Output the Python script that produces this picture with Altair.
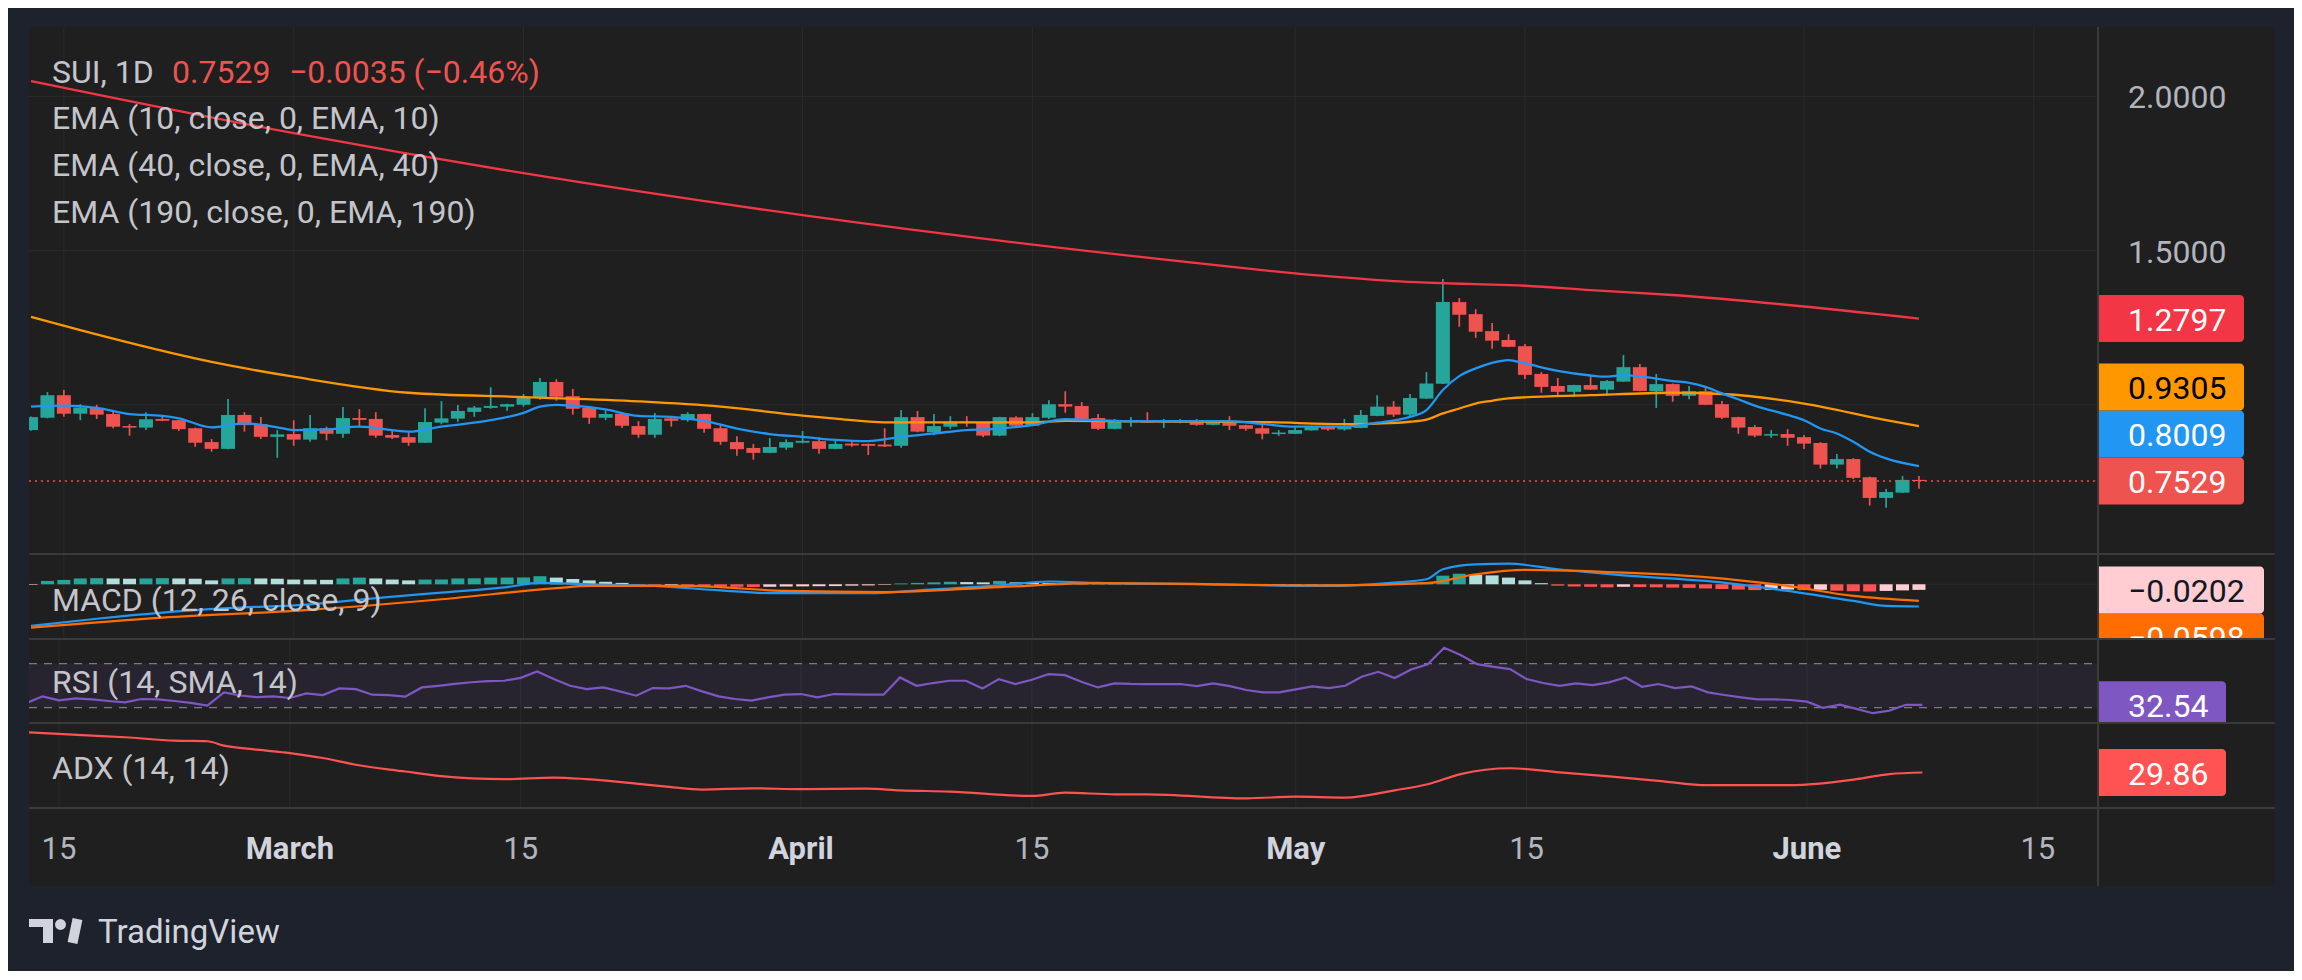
import altair as alt
import pandas as pd

# ---------------- data ----------------
symbol = "SUI, 1D"
change_text = "−0.0035 (−0.46%)"
start_date = "2025-02-13"
ref_date = "2025-02-15"

opens = [0.918, 0.958, 1.031, 0.971, 0.990, 0.970, 0.931, 0.926, 0.954, 0.950,
         0.924, 0.879, 0.857, 0.967, 0.937, 0.896, 0.905, 0.887, 0.924, 0.906,
         0.957, 0.954, 0.902, 0.895, 0.877, 0.942, 0.955, 0.977, 0.990, 0.994,
         1.000, 1.023, 1.074, 1.028, 0.990, 0.958, 0.971, 0.931, 0.903, 0.956,
         0.950, 0.970, 0.924, 0.879, 0.860, 0.844, 0.861, 0.877, 0.882, 0.857,
         0.874, 0.873, 0.871, 0.867, 0.960, 0.911, 0.929, 0.945, 0.941, 0.900,
         0.959, 0.932, 0.958, 1.002, 0.996, 0.957, 0.922, 0.943, 0.950, 0.943,
         0.943, 0.948, 0.935, 0.948, 0.934, 0.924, 0.905, 0.906, 0.917, 0.928,
         0.920, 0.925, 0.964, 0.994, 0.968, 1.020, 1.068, 1.333, 1.294, 1.239,
         1.210, 1.190, 1.100, 1.061, 1.042, 1.064, 1.049, 1.075, 1.122, 1.044,
         1.067, 1.029, 1.044, 1.002, 0.960, 0.928, 0.900, 0.905, 0.895, 0.876,
         0.806, 0.824, 0.765, 0.698, 0.715, 0.7564]
highs = [0.962, 1.041, 1.048, 1.002, 1.000, 0.982, 0.937, 0.976, 0.967, 0.951,
         0.926, 0.889, 1.019, 0.976, 0.960, 0.918, 0.950, 0.967, 0.929, 0.993,
         0.986, 0.976, 0.915, 0.913, 0.989, 1.012, 0.999, 0.996, 1.057, 1.003,
         1.035, 1.087, 1.083, 1.051, 0.994, 0.985, 0.974, 0.947, 0.973, 0.962,
         0.976, 0.971, 0.934, 0.898, 0.873, 0.892, 0.888, 0.915, 0.895, 0.885,
         0.881, 0.874, 0.924, 0.983, 0.980, 0.970, 0.963, 0.963, 0.943, 0.961,
         0.963, 0.973, 1.015, 1.044, 1.009, 0.970, 0.954, 0.960, 0.976, 0.954,
         0.954, 0.954, 0.950, 0.963, 0.935, 0.937, 0.918, 0.927, 0.932, 0.933,
         0.954, 0.983, 1.031, 1.012, 1.035, 1.106, 1.408, 1.346, 1.310, 1.265,
         1.229, 1.197, 1.106, 1.087, 1.065, 1.095, 1.080, 1.161, 1.132, 1.100,
         1.069, 1.061, 1.054, 1.012, 0.961, 0.934, 0.918, 0.921, 0.902, 0.879,
         0.840, 0.827, 0.767, 0.727, 0.769, 0.769]
lows = [0.916, 0.956, 0.961, 0.950, 0.954, 0.924, 0.900, 0.918, 0.947, 0.915,
        0.864, 0.848, 0.856, 0.913, 0.889, 0.828, 0.867, 0.880, 0.885, 0.893,
        0.927, 0.893, 0.889, 0.867, 0.876, 0.937, 0.945, 0.961, 0.987, 0.981,
        0.994, 1.016, 1.013, 0.968, 0.938, 0.950, 0.925, 0.893, 0.893, 0.929,
        0.945, 0.909, 0.870, 0.835, 0.822, 0.843, 0.854, 0.875, 0.841, 0.856,
        0.864, 0.837, 0.863, 0.861, 0.911, 0.901, 0.922, 0.929, 0.895, 0.898,
        0.925, 0.931, 0.954, 0.974, 0.950, 0.918, 0.921, 0.929, 0.941, 0.925,
        0.940, 0.932, 0.934, 0.918, 0.916, 0.888, 0.899, 0.905, 0.916, 0.916,
        0.916, 0.924, 0.963, 0.961, 0.958, 1.019, 1.067, 1.253, 1.217, 1.182,
        1.187, 1.084, 1.039, 1.026, 1.026, 1.048, 1.029, 1.074, 1.044, 0.990,
        1.010, 1.018, 0.999, 0.954, 0.906, 0.895, 0.893, 0.867, 0.857, 0.793,
        0.793, 0.759, 0.673, 0.666, 0.714, 0.728]
closes = [0.960, 1.031, 0.971, 0.991, 0.968, 0.929, 0.926, 0.953, 0.948, 0.921,
          0.877, 0.857, 0.967, 0.934, 0.896, 0.904, 0.887, 0.924, 0.906, 0.957,
          0.951, 0.900, 0.893, 0.877, 0.944, 0.956, 0.980, 0.991, 0.996, 1.002,
          1.024, 1.074, 1.026, 0.987, 0.958, 0.970, 0.932, 0.903, 0.954, 0.948,
          0.970, 0.922, 0.880, 0.856, 0.844, 0.863, 0.879, 0.883, 0.857, 0.873,
          0.868, 0.867, 0.865, 0.960, 0.913, 0.931, 0.945, 0.941, 0.900, 0.960,
          0.932, 0.960, 1.002, 0.994, 0.954, 0.922, 0.945, 0.950, 0.942, 0.948,
          0.950, 0.935, 0.948, 0.932, 0.922, 0.906, 0.910, 0.918, 0.929, 0.920,
          0.929, 0.967, 0.994, 0.968, 1.022, 1.069, 1.333, 1.292, 1.237, 1.208,
          1.188, 1.097, 1.058, 1.042, 1.064, 1.049, 1.077, 1.122, 1.045, 1.067,
          1.029, 1.044, 1.000, 0.958, 0.926, 0.900, 0.905, 0.893, 0.874, 0.806,
          0.824, 0.763, 0.698, 0.717, 0.7564, 0.7529]

# indicator readings (day numbers counted from ref_date)
ema10_days = [-2, 0, 2, 4, 6, 7, 9, 11, 13, 14, 16, 18, 21, 23, 26, 28, 29, 30, 31, 33,
              35, 37, 39, 41, 43, 45, 47, 49, 51, 53, 55, 57, 59, 61, 63, 65, 68, 71, 73, 75,
              78, 80, 82, 83, 84, 85, 86, 87, 88, 89, 91, 93, 94, 95, 97, 98, 99, 100, 101, 102,
              103, 105, 106, 107, 108, 109, 110, 111, 113]
ema10_vals = [0.994, 0.997, 0.990, 0.970, 0.964, 0.956, 0.927, 0.940, 0.927, 0.918,
              0.920, 0.929, 0.913, 0.929, 0.950, 0.974, 0.994, 1.000, 0.997, 0.985,
              0.964, 0.961, 0.948, 0.923, 0.905, 0.896, 0.886, 0.882, 0.896, 0.907,
              0.918, 0.923, 0.934, 0.953, 0.950, 0.947, 0.947, 0.947, 0.938, 0.929,
              0.929, 0.942, 0.961, 0.983, 1.048, 1.093, 1.118, 1.136, 1.145, 1.134,
              1.110, 1.095, 1.091, 1.096, 1.085, 1.077, 1.071, 1.058, 1.037, 1.018,
              0.997, 0.967, 0.950, 0.923, 0.907, 0.880, 0.848, 0.826, 0.8009]
ema40_days = [-2, 1, 9, 14, 21, 28, 35, 40, 45, 47, 50, 59, 61, 73, 78, 80, 82, 83, 84, 85,
              86, 87, 88, 93, 98, 101, 106, 111, 113]
ema40_vals = [1.285, 1.242, 1.139, 1.091, 1.039, 1.025, 1.011, 0.994, 0.965, 0.955,
              0.943, 0.943, 0.948, 0.944, 0.937, 0.939, 0.945, 0.952, 0.972, 0.988,
              1.004, 1.013, 1.021, 1.031, 1.039, 1.035, 1.004, 0.950, 0.9305]
ema190_days = [-2, 14, 28, 45, 73, 75, 78, 81, 83, 86, 89, 93, 98, 113]
ema190_vals = [2.050, 1.881, 1.751, 1.615, 1.437, 1.426, 1.413, 1.401, 1.396, 1.391,
               1.386, 1.372, 1.356, 1.2797]

macd_days = [-2, 2, 6, 10, 15, 19, 23, 27, 29, 32, 36, 40, 43, 49, 53, 57, 60, 63, 70, 77,
             81, 83, 84, 86, 88, 91, 95, 100, 105, 109, 111, 113]
macd_vals = [-0.150, -0.124, -0.102, -0.086, -0.072, -0.050, -0.030, -0.010, 0.005, 0.000,
             -0.006, -0.022, -0.032, -0.032, -0.018, -0.004, 0.010, 0.005, 0.000, -0.006,
             0.006, 0.018, 0.054, 0.072, 0.074, 0.054, 0.032, 0.012, -0.024, -0.060,
             -0.078, -0.0800]
signal_days = [-2, 6, 15, 23, 30, 32, 38, 44, 50, 57, 63, 77, 83, 86, 89, 95, 100, 105, 109, 113]
signal_vals = [-0.156, -0.120, -0.092, -0.054, -0.014, -0.006, -0.006, -0.024, -0.028, -0.010,
               0.004, -0.004, 0.004, 0.036, 0.052, 0.042, 0.026, -0.006, -0.042, -0.0598]
macd_hist = [-0.002, 0.012, 0.0156, 0.021, 0.022, 0.021, 0.020, 0.021, 0.022, 0.021,
             0.020, 0.014, 0.021, 0.022, 0.021, 0.020, 0.017, 0.0165, 0.016, 0.021,
             0.024, 0.021, 0.017, 0.014, 0.017, 0.0172, 0.021, 0.0215, 0.024, 0.0242,
             0.0245, 0.029, 0.024, 0.019, 0.014, 0.009, 0.005,
             -0.003, -0.004, -0.0035, -0.004, -0.006, -0.008, -0.009, -0.010, -0.009, -0.008,
             -0.0075, -0.007, -0.0065, -0.005, -0.004, -0.002,
             0.003, 0.005, 0.007, 0.009, 0.008, 0.007, 0.012, 0.007, 0.006, 0.005,
             0.0045, 0.004, 0.003, 0.0025, 0.002, 0.0015, 0.001, 0.0005,
             -0.001, -0.002, -0.003, -0.0035, -0.004, -0.003, -0.002, -0.0015, -0.001, -0.0005,
             0.001, 0.002, 0.003, 0.005, 0.008, 0.031, 0.038, 0.034, 0.032, 0.024, 0.014, 0.004,
             -0.005, -0.008, -0.009, -0.011, -0.009, -0.010, -0.011, -0.012, -0.013, -0.015,
             -0.017, -0.019, -0.021, -0.020, -0.019, -0.021, -0.020, -0.023, -0.025, -0.026,
             -0.024, -0.022, -0.0202]
rsi_vals = [34.0, 40.2, 36.5, 38.4, 37.4, 36.0, 34.8, 37.8, 37.4, 36.0,
            34.2, 31.8, 43.8, 41.0, 39.5, 40.2, 38.7, 42.9, 41.4, 47.4,
            46.8, 41.7, 41.4, 39.9, 48.3, 49.8, 51.5, 53.0, 54.0, 54.4,
            57.0, 62.8, 55.9, 49.8, 46.8, 48.3, 44.7, 40.8, 47.7, 47.4,
            49.8, 44.7, 40.2, 37.8, 36.3, 39.3, 41.7, 42.3, 39.3, 42.3,
            42.0, 41.8, 41.7, 57.4, 49.8, 52.3, 54.4, 54.4, 47.4, 55.9,
            51.4, 55.3, 60.4, 59.5, 53.5, 48.3, 52.0, 51.5, 51.4, 51.4,
            51.4, 49.5, 52.0, 49.5, 46.0, 43.8, 43.8, 46.5, 49.2, 47.7,
            49.8, 58.0, 62.5, 56.8, 64.6, 69.4, 84.4, 77.8, 69.4, 67.0,
            64.9, 55.9, 52.3, 49.8, 52.0, 50.5, 52.9, 57.4, 48.9, 51.4,
            47.7, 49.2, 43.8, 41.4, 39.3, 37.5, 37.5, 36.9, 35.4, 29.7,
            32.7, 28.8, 24.9, 27.3, 32.5, 32.54]
adx_days = [-2, 2, 4, 7, 9, 10, 12, 14, 16, 18, 21, 23, 25, 27, 30, 32, 35, 37, 39, 42,
            45, 49, 51, 54, 59, 61, 64, 66, 72, 75, 78, 81, 83, 85, 88, 91, 94, 97, 100, 105,
            109, 111, 113]
adx_vals = [51.9, 50.1, 49.2, 47.3, 47.0, 44.6, 42.4, 40.5, 37.8, 34.1,
            30.4, 28.0, 26.6, 26.2, 27.1, 26.2, 23.8, 22.0, 20.5, 21.2,
            20.7, 21.0, 20.1, 19.4, 17.0, 18.8, 17.9, 17.9, 15.7, 16.6,
            16.1, 20.1, 23.4, 29.0, 32.2, 29.9, 27.7, 25.3, 22.9, 22.9,
            26.2, 29.0, 29.86]

tick_days = [0, 14, 28, 45, 59, 75, 89, 106, 120]
tick_labels = ["15", "March", "15", "April", "15", "May", "15", "June", "15"]
grid_prices = [1.0, 1.5, 2.0]
axis_prices = [2.0, 1.5]
legend_lines = ["EMA (10, close, 0, EMA, 10)", "EMA (40, close, 0, EMA, 40)",
                "EMA (190, close, 0, EMA, 190)"]

# ---------------- style / layout ----------------
FONT = "Roboto"
BG_OUT = "#1e222d"
BG = "#1f1f1f"
GRID = "#2b2b2b"
SEPC = "#3a3a3a"
TXT = "#c3c5cb"
AXT = "#b2b5be"
LOGO = "#d1d4dc"
UP, DOWN = "#26a69a", "#ef5350"

W = 2246
H_MAIN, H_MACD, H_RSI, H_ADX, H_AXIS, H_FOOT = 527, 85, 84, 85, 78, 163
PXD = 16.49          # pixels per day
X0 = 30.0            # pixel of ref_date
SEP = 2069           # price-axis separator
LBL_X = 2099
BH = 47              # label box height

DOM_MAIN = [0.5161, 2.2251]
DOM_MACD = [-0.197, 0.109]
DOM_RSI = [16.0, 92.3]
DOM_ADX = [10.4, 57.0]

xscale = alt.Scale(domain=[(0 - X0) / PXD, (W - X0) / PXD], nice=False, zero=False)
X = alt.X("d:Q", scale=xscale, axis=None)


def ysc(dom):
    return alt.Scale(domain=dom, nice=False, zero=False)


def ypx(v, dom, h):
    return (dom[1] - v) / (dom[1] - dom[0]) * h


one = pd.DataFrame({"k": [0]})


def txt(s, x, y, color, size=32, weight="normal", align="left", baseline="alphabetic", clip=False):
    return alt.Chart(one).mark_text(text=s, font=FONT, fontSize=size, fontWeight=weight,
                                    color=color, align=align, baseline=baseline, clip=clip
                                    ).encode(x=alt.value(x), y=alt.value(y))


def box(x1, x2, y1, y2, color, radius=4, clip=False):
    return alt.Chart(one).mark_rect(color=color, cornerRadiusTopRight=radius,
                                    cornerRadiusBottomRight=radius, clip=clip
                                    ).encode(x=alt.value(x1), x2=alt.value(x2),
                                             y=alt.value(y1), y2=alt.value(y2))


def plainrect(x1, x2, y1, y2, color):
    return alt.Chart(one).mark_rect(color=color).encode(
        x=alt.value(x1), x2=alt.value(x2), y=alt.value(y1), y2=alt.value(y2))


def bgrect(h):
    return plainrect(0, W, 0, h, BG)


def hsep():
    return alt.Chart(one).mark_rule(color=SEPC, strokeWidth=2).encode(
        x=alt.value(0), x2=alt.value(W), y=alt.value(0))


def vsep(h):
    return alt.Chart(one).mark_rule(color=SEPC, strokeWidth=2).encode(
        x=alt.value(SEP), y=alt.value(0), y2=alt.value(h))


ticks_df = pd.DataFrame({"d": tick_days, "t": tick_labels})
month_df = ticks_df[~ticks_df["t"].str.isdigit()]
daynum_df = ticks_df[ticks_df["t"].str.isdigit()]


def vgrid(h):
    return alt.Chart(ticks_df).mark_rule(color=GRID, strokeWidth=1).encode(
        x=X, y=alt.value(0), y2=alt.value(h))


def hgrid(values, dom):
    return alt.Chart(pd.DataFrame({"p": values})).mark_rule(color=GRID, strokeWidth=1).encode(
        y=alt.Y("p:Q", scale=ysc(dom), axis=None), x=alt.value(0), x2=alt.value(SEP))


def line(days, vals, dom, color, width=2.3, interp="monotone"):
    df = pd.DataFrame({"d": days, "v": vals})
    return alt.Chart(df).mark_line(color=color, strokeWidth=width, interpolate=interp,
                                   clip=True).encode(x=X, y=alt.Y("v:Q", scale=ysc(dom), axis=None))


def fmt(v, n):
    return f"{v:.{n}f}".replace("-", "−")


# ---------------- main pane ----------------
dates = pd.date_range(start_date, periods=len(closes), freq="D")
days = [(t - pd.Timestamp(ref_date)).days for t in dates]
cdf = pd.DataFrame({"d": days, "o": opens, "h": highs, "l": lows, "c": closes})
cdf["col"] = [UP if c >= o else DOWN for o, c in zip(opens, closes)]
ym = ysc(DOM_MAIN)

wicks = alt.Chart(cdf).mark_rule(strokeWidth=1.7, clip=True).encode(
    x=X, y=alt.Y("l:Q", scale=ym, axis=None), y2="h:Q", color=alt.Color("col:N", scale=None))
bodies = alt.Chart(cdf).mark_bar(size=14, clip=True).encode(
    x=X, y=alt.Y("o:Q", scale=ym, axis=None), y2="c:Q", color=alt.Color("col:N", scale=None))

last_close = closes[-1]
lastline = alt.Chart(pd.DataFrame({"p": [last_close]})).mark_rule(
    color=DOWN, strokeWidth=1.6, strokeDash=[2, 4]).encode(
    y=alt.Y("p:Q", scale=ym, axis=None), x=alt.value(0), x2=alt.value(SEP))

axis_txt = alt.Chart(pd.DataFrame({"p": axis_prices, "t": [fmt(p, 4) for p in axis_prices]})).mark_text(
    font=FONT, fontSize=32, color=AXT, align="left", baseline="middle", dy=2).encode(
    y=alt.Y("p:Q", scale=ym, axis=None), x=alt.value(LBL_X), text="t:N")

# right-side value labels, stacked upward from the last price
main_lbls = [(ema190_vals[-1], "#f23645", "white"), (ema40_vals[-1], "#ff9800", "black"),
             (ema10_vals[-1], "#2196f3", "white"), (last_close, "#ef5350", "white")]
main_lbls.sort(key=lambda t: t[0])
placed = []
prev = None
for v, bc, tc in main_lbls:
    pos = ypx(v, DOM_MAIN, H_MAIN)
    if prev is not None:
        pos = min(pos, prev - BH)
    placed.append((v, bc, tc, pos))
    prev = pos
main_label_layers = []
for v, bc, tc, pos in placed:
    main_label_layers.append(box(SEP + 1, 2215, pos - BH / 2, pos + BH / 2, bc))
    main_label_layers.append(txt(fmt(v, 4), LBL_X, pos + 2, tc, baseline="middle"))

legend = [txt(symbol, 23, 56, TXT), txt(fmt(last_close, 4), 143, 56, DOWN),
          txt(change_text, 260, 56, DOWN)]
for i, s in enumerate(legend_lines):
    legend.append(txt(s, 23, 102 + 47 * i, TXT))

main = alt.layer(
    bgrect(H_MAIN), vgrid(H_MAIN), hgrid(grid_prices, DOM_MAIN),
    wicks, bodies,
    line(ema190_days, ema190_vals, DOM_MAIN, "#f23645", 2.3),
    line(ema40_days, ema40_vals, DOM_MAIN, "#ff9800", 2.3),
    line(ema10_days, ema10_vals, DOM_MAIN, "#2196f3", 2.3),
    lastline, *legend, vsep(H_MAIN), axis_txt, *main_label_layers,
).properties(width=W, height=H_MAIN)

# ---------------- MACD pane ----------------
hcol = []
for i, h in enumerate(macd_hist):
    p = macd_hist[i - 1] if i > 0 else h - 0.001
    if h >= 0:
        hcol.append("#26a69a" if h > p else "#b2dfdb")
    else:
        hcol.append("#ffcdd2" if h > p else "#ff5252")
hdf = pd.DataFrame({"d": days, "h": macd_hist, "z": 0.0, "col": hcol})
ymacd = ysc(DOM_MACD)
hist = alt.Chart(hdf).mark_bar(size=13, clip=True).encode(
    x=X, y=alt.Y("h:Q", scale=ymacd, axis=None), y2="z:Q", color=alt.Color("col:N", scale=None))

p_hist = ypx(macd_hist[-1], DOM_MACD, H_MACD)
p_sig = max(ypx(signal_vals[-1], DOM_MACD, H_MACD), p_hist + BH)
macd = alt.layer(
    bgrect(H_MACD), vgrid(H_MACD), hgrid([0.0], DOM_MACD), hist,
    line(macd_days, macd_vals, DOM_MACD, "#2196f3", 2.2),
    line(signal_days, signal_vals, DOM_MACD, "#ff6d00", 2.2),
    txt("MACD (12, 26, close, 9)", 23, 57, TXT),
    hsep(), vsep(H_MACD),
    box(SEP + 1, 2235, p_sig - BH / 2, p_sig + BH / 2, "#ff6d00", clip=True),
    txt(fmt(signal_vals[-1], 4), LBL_X, p_sig + 2, "white", baseline="middle", clip=True),
    box(SEP + 1, 2235, p_hist - BH / 2, p_hist + BH / 2, "#ffcdd2", clip=True),
    txt(fmt(macd_hist[-1], 4), LBL_X, p_hist + 2, "#131722", baseline="middle", clip=True),
).properties(width=W, height=H_MACD)

# ---------------- RSI pane ----------------
yrsi = ysc(DOM_RSI)
band = alt.Chart(pd.DataFrame({"a": [70], "b": [30]})).mark_rect(color="#7e57c2", opacity=0.1).encode(
    x=alt.value(0), x2=alt.value(SEP), y=alt.Y("a:Q", scale=yrsi, axis=None), y2="b:Q")
bands = alt.Chart(pd.DataFrame({"p": [70, 30]})).mark_rule(
    color="#787b86", strokeWidth=1.3, strokeDash=[8, 7]).encode(
    y=alt.Y("p:Q", scale=yrsi, axis=None), x=alt.value(0), x2=alt.value(SEP))
p_rsi = ypx(rsi_vals[-1], DOM_RSI, H_RSI)
rsi = alt.layer(
    bgrect(H_RSI), vgrid(H_RSI), band, bands,
    line(days, rsi_vals, DOM_RSI, "#7e57c2", 2.2, "linear"),
    txt("RSI (14, SMA, 14)", 23, 54, TXT),
    hsep(), vsep(H_RSI),
    box(SEP + 1, 2197, p_rsi - BH / 2, p_rsi + BH / 2, "#7e57c2", clip=True),
    txt(fmt(rsi_vals[-1], 2), LBL_X, p_rsi + 2, "white", baseline="middle", clip=True),
).properties(width=W, height=H_RSI)

# ---------------- ADX pane ----------------
p_adx = ypx(adx_vals[-1], DOM_ADX, H_ADX)
adx = alt.layer(
    bgrect(H_ADX), vgrid(H_ADX),
    line(adx_days, adx_vals, DOM_ADX, "#ff5252", 2.2),
    txt("ADX (14, 14)", 23, 56, TXT),
    hsep(), vsep(H_ADX),
    box(SEP + 1, 2197, p_adx - BH / 2, p_adx + BH / 2, "#ff5252", clip=True),
    txt(fmt(adx_vals[-1], 2), LBL_X, p_adx + 2, "white", baseline="middle", clip=True),
).properties(width=W, height=H_ADX)

# ---------------- time axis + footer ----------------
month_txt = alt.Chart(month_df).mark_text(font=FONT, fontSize=31, fontWeight="bold", align="center",
                                          baseline="middle", dy=2, color="#d1d4dc").encode(
    x=X, y=alt.value(40), text="t:N")
daynum_txt = alt.Chart(daynum_df).mark_text(font=FONT, fontSize=31, align="center",
                                            baseline="middle", dy=2, color=AXT).encode(
    x=X, y=alt.value(40), text="t:N")

# TradingView logo: bar + stem, dot, slanted stroke
logo_bar = plainrect(0, 24, 111, 119, LOGO)
logo_stem = plainrect(14, 24, 111, 135, LOGO)
logo_dot = alt.Chart(one).mark_circle(color=LOGO, opacity=1, size=120).encode(
    x=alt.value(31.5), y=alt.value(116.5))
logo_slash = alt.Chart(one).mark_rule(color=LOGO, strokeWidth=10, strokeCap="butt").encode(
    x=alt.value(43.5), y=alt.value(135), x2=alt.value(48.5), y2=alt.value(111))

foot = alt.layer(
    bgrect(H_AXIS), month_txt, daynum_txt, hsep(), vsep(H_AXIS),
    logo_bar, logo_stem, logo_dot, logo_slash,
    txt("TradingView", 69, 135, LOGO, size=33),
).properties(width=W, height=H_FOOT)

chart = alt.vconcat(main, macd, rsi, adx, foot, spacing=0, bounds="flush").properties(
    padding={"left": 20, "top": 18, "right": 18, "bottom": 0},
    background=BG_OUT,
).configure_view(strokeWidth=0)

chart.save("out.html", embed_options={"renderer": "svg", "actions": False})
